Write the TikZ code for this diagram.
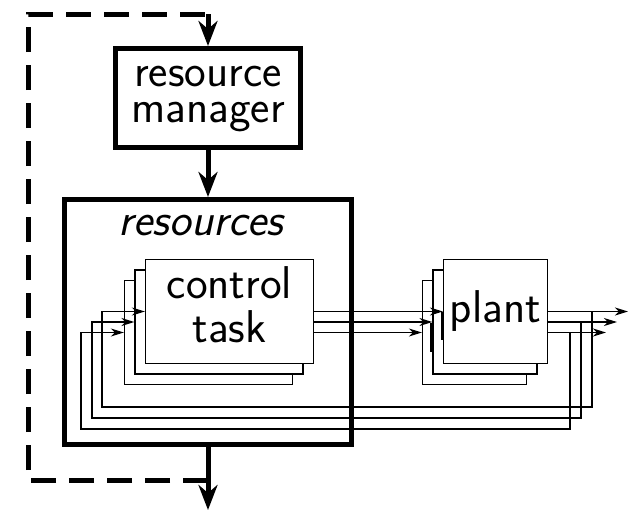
\documentclass[tikz,border=0pt]{standalone}
\usepackage{fontspec}
\usetikzlibrary{arrows.meta}
\begin{document}
\begin{tikzpicture}[x=1pt,y=-1pt,
  thickbox/.style={draw,line width=5pt,inner sep=0pt},
  thinbox/.style={draw,line width=1.3pt,fill=white,inner sep=0pt},
  lbl/.style={inner sep=0pt,align=center,font=\fontsize{46}{44}\selectfont\sffamily},
  ilbl/.style={inner sep=0pt,font=\fontsize{46}{44}\selectfont\sffamily\itshape},
  bigarrow/.style={line width=5pt,-{Stealth[length=25pt,width=19pt,inset=8pt]}},
  thinarrow/.style={line width=1.3pt,-{Stealth[length=13pt,width=8pt,inset=4pt]}},
  dashline/.style={line width=5pt,dash pattern=on 25pt off 13pt}]
\useasboundingbox (0,0) rectangle (632,512);

% resource manager
\node[thickbox,minimum width=185pt,minimum height=99pt] (rm) at (208,98) {};
\node[lbl,anchor=north,font=\fontsize{46}{36}\selectfont\sffamily] (rmt) at (208,66) {resource\\manager};

% resources
\node[thickbox,minimum width=287pt,minimum height=245pt] (res) at (208,322) {};
\node[ilbl,anchor=base] (rest) at (201,235) {resources};

% control tasks
\node[thinbox,minimum width=168pt,minimum height=104pt] (ct3) at (208.5,332.5) {};
\node[thinbox,minimum width=168pt,minimum height=104pt] (ct2) at (219,322) {};
\node[thinbox,minimum width=168pt,minimum height=104pt] (ct1) at (229.5,311.5) {};
\node[lbl,anchor=north] (ctt) at (229.5,266) {control\\task};

% plants
\node[thinbox,minimum width=104pt,minimum height=104pt] (pl3) at (474.5,332.5) {};
\node[thinbox,minimum width=104pt,minimum height=104pt] (pl2) at (485,322) {};
\node[thinbox,minimum width=104pt,minimum height=104pt] (pl1) at (495.5,311.5) {};
\node[lbl,anchor=base] (plt) at (495.5,322) {plant};

% coordinates
\coordinate (o1) at (628,311.5);
\coordinate (o2) at (617,322);
\coordinate (o3) at (606,332.5);
\coordinate (b1) at (592,311.5);
\coordinate (b2) at (581,322);
\coordinate (b3) at (570,332.5);
\coordinate (f1) at (102,407);
\coordinate (f2) at (92,418);
\coordinate (f3) at (81,429);
\coordinate (d1) at (208,480);
\coordinate (d2) at (28,480);
\coordinate (d3) at (28,14);
\coordinate (d4) at (208,14);
\coordinate (out) at (208,510);

% control task -> plant
\draw[thinarrow] (ct1.east) -- (pl1.west);
\draw[thinarrow] (ct1.east |- ct2.east) -- (pl2.west);
\draw[thinarrow] (ct1.east |- ct3.east) -- (pl3.west);

% plant outputs
\draw[thinarrow] (pl1.east) -- (o1);
\draw[thinarrow] (pl1.east |- pl2.east) -- (o2);
\draw[thinarrow] (pl1.east |- pl3.east) -- (o3);

% feedback
\draw[thinarrow] (b1) |- (f1) |- (ct1.west);
\draw[thinarrow] (b2) |- (f2) |- (ct2.west);
\draw[thinarrow] (b3) |- (f3) |- (ct3.west);

% small marks near plant inputs
\draw[line width=2.5pt] (431,323) -- (431,352);
\draw[line width=2.5pt] (442.5,312) -- (442.5,340);

% thick flow
\draw[dashline] (d1) -- (d2) -- (d3) -- (d4);
\draw[bigarrow] (d4) -- (rm.north);
\draw[bigarrow] (rm.south) -- (res.north);
\draw[bigarrow] (res.south) -- (out);
\end{tikzpicture}
\end{document}
